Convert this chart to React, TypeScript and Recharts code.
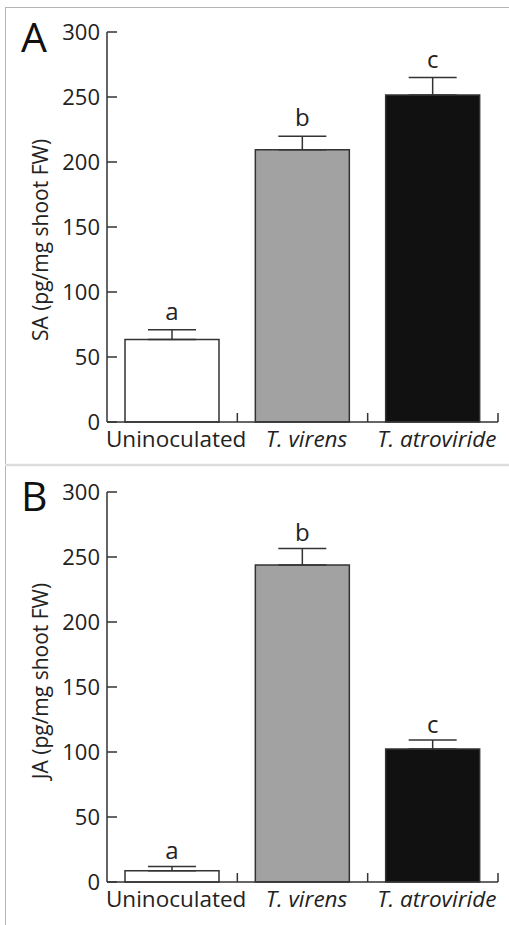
import { BarChart, Bar, XAxis, YAxis, ErrorBar, LabelList, Cell } from 'recharts';

const CATEGORIES = ['Uninoculated', 'T. virens', 'T. atroviride'];
const ITALIC = [false, true, true];
const Y_TICKS = [0, 50, 100, 150, 200, 250, 300];

// panel A: SA
const SA_MEAN = [63.5, 209.5, 251.5];
const SA_ERR = [7.5, 10.3, 13.5];
const SA_LETTERS = ['a', 'b', 'c'];

// panel B: JA
const JA_MEAN = [8.7, 243.8, 102.3];
const JA_ERR = [3.3, 12.8, 6.9];
const JA_LETTERS = ['a', 'b', 'c'];

const FILLS = ['#ffffff', '#a2a2a2', '#111111'];
const INK = '#333333';
const FONT = '"Open Sans", sans-serif';

const W = 509;
const Y_W = 107;
const RIGHT = 11;
const BAND = (W - Y_W - RIGHT) / CATEGORIES.length;
const Y_GAP = 7;

const build = (mean: number[], err: number[], letters: string[]) =>
  CATEGORIES.map((name, i) => ({
    name,
    mean: mean[i],
    err: [0, err[i]],
    errTop: err[i],
    letter: letters[i],
  }));

const YTick = (props: any) => {
  const { x, y, payload } = props;
  const ax = x + Y_GAP;
  return (
    <g>
      <line x1={ax} x2={ax + 10} y1={y} y2={y} stroke={INK} strokeWidth={1.5} />
      <text x={x} y={y} dy={8} textAnchor="end" fontSize={22} fill="#222" fontFamily={FONT}>
        {payload.value}
      </text>
    </g>
  );
};

const XTick = (props: any) => {
  const { x, y, payload, index } = props;
  const edge = x + BAND / 2;
  return (
    <g>
      <line x1={edge} x2={edge} y1={y} y2={y - 9} stroke={INK} strokeWidth={1.5} />
      <text
        x={x + 4}
        y={y + 25}
        textAnchor="middle"
        fontSize={22.5}
        fill="#222"
        fontFamily={FONT}
        fontStyle={ITALIC[index] ? 'italic' : 'normal'}
      >
        {payload.value}
      </text>
    </g>
  );
};

function Panel(props: {
  data: any[];
  height: number;
  top: number;
  yLabel: string;
  labelDy: number;
  letterOffset: number;
}) {
  const { data, height, top, yLabel, labelDy, letterOffset } = props;
  return (
    <BarChart
      width={W}
      height={height}
      data={data}
      margin={{ top, right: RIGHT, bottom: 0, left: 0 }}
      barSize={94}
    >
      <XAxis
        dataKey="name"
        height={height - top - 390}
        tickSize={0}
        tickMargin={0}
        tick={<XTick />}
        axisLine={{ stroke: INK, strokeWidth: 1.5 }}
        tickLine={false}
        interval={0}
      />
      <YAxis
        width={Y_W}
        domain={[0, 300]}
        ticks={Y_TICKS}
        tickSize={0}
        tickMargin={Y_GAP}
        tick={<YTick />}
        tickLine={false}
        axisLine={{ stroke: INK, strokeWidth: 1.5 }}
        label={{
          value: yLabel,
          angle: -90,
          position: 'center',
          dx: -13,
          dy: labelDy,
          fontSize: 21,
          fill: '#222',
          fontFamily: FONT,
        }}
      />
      <Bar dataKey="mean" stackId="s" stroke={INK} strokeWidth={1.5} isAnimationActive={false}>
        {data.map((d, i) => (
          <Cell key={d.name} fill={FILLS[i]} />
        ))}
        <ErrorBar dataKey="err" width={24} stroke={INK} strokeWidth={1.5} isAnimationActive={false} />
      </Bar>
      <Bar dataKey="errTop" stackId="s" fill="none" stroke="none" isAnimationActive={false}>
        <LabelList
          dataKey="letter"
          position="top"
          offset={letterOffset}
          fontSize={24}
          fill="#222"
          fontFamily={FONT}
        />
      </Bar>
    </BarChart>
  );
}

export default function App() {
  const dataA = build(SA_MEAN, SA_ERR, SA_LETTERS);
  const dataB = build(JA_MEAN, JA_ERR, JA_LETTERS);
  return (
    <div style={{ position: 'absolute', left: 0, top: 0, width: W, height: 925, background: '#fff' }}>
      <div style={{ position: 'absolute', left: 0, top: 0 }}>
        <Panel data={dataA} height={465} top={32} yLabel="SA (pg/mg shoot FW)" labelDy={13} letterOffset={10} />
      </div>
      <div style={{ position: 'absolute', left: 0, top: 467 }}>
        <Panel data={dataB} height={458} top={25} yLabel="JA (pg/mg shoot FW)" labelDy={-6} letterOffset={7} />
      </div>
      <svg width={W} height={925} style={{ position: 'absolute', left: 0, top: 0, pointerEvents: 'none' }}>
        <line x1={5.5} x2={5.5} y1={7} y2={925} stroke="#b5b5b5" strokeWidth={1} />
        <line x1={5} x2={W} y1={7.5} y2={7.5} stroke="#b5b5b5" strokeWidth={1} />
        <line x1={5} x2={W} y1={465} y2={465} stroke="#dddddd" strokeWidth={2.5} />
        <text x={21} y={52} fontSize={41} fill="#111" fontFamily={FONT}>A</text>
        <text x={21} y={511} fontSize={41} fill="#111" fontFamily={FONT}>B</text>
      </svg>
    </div>
  );
}
